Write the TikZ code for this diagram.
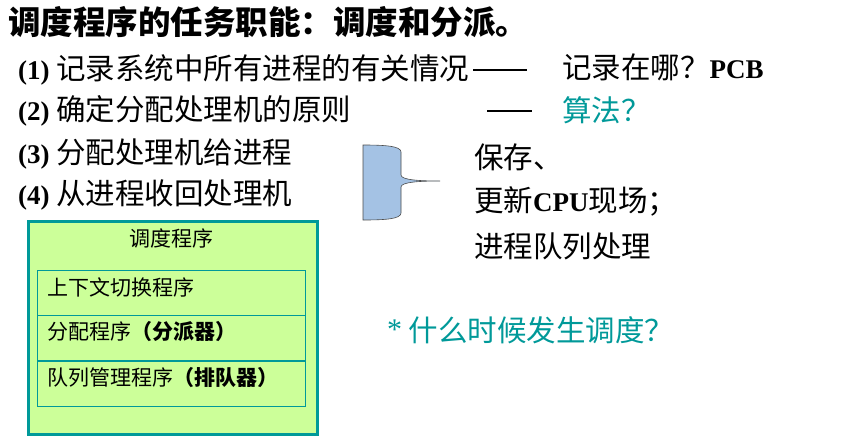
\documentclass[tikz,border=0pt]{standalone}
\usepackage{fontspec}
\setmainfont{Liberation Serif}
\newfontfamily\cjk{Noto Sans CJK SC}
\definecolor{teal1}{RGB}{0,153,153}
\definecolor{boxgreen}{RGB}{204,255,153}
\definecolor{bracefill}{RGB}{164,194,228}
\newcommand\cj[1]{{\fontsize{29.5}{31}\selectfont\cjk #1}}
\begin{document}
\begin{tikzpicture}[x=1pt,y=-1pt,
  big/.style={anchor=west,inner sep=0pt,font=\fontsize{27}{29}\selectfont},
  mid/.style={anchor=west,inner sep=0pt,font=\fontsize{21}{23}\selectfont\cjk}]
\useasboundingbox (0,0) rectangle (841,445);
\node[anchor=west,inner sep=0pt,font=\fontsize{32.5}{34}\selectfont\cjk\bfseries] (title) at (8,22) {调度程序的任务职能：调度和分派。};
\node[big] (i1) at (18,70) {\textbf{(1)} \cj{记录系统中所有进程的有关情况}};
\node[big] (i2) at (18,111) {\textbf{(2)} \cj{确定分配处理机的原则}};
\node[big] (i3) at (18,154) {\textbf{(3)} \cj{分配处理机给进程}};
\node[big] (i4) at (18,195) {\textbf{(4)} \cj{从进程收回处理机}};
\coordinate (d1a) at (473,70); \coordinate (d1b) at (527,70);
\coordinate (d2a) at (487,111); \coordinate (d2b) at (532,111);
\draw[line width=1.3pt] (d1a) -- (d1b);
\draw[line width=1.3pt] (d2a) -- (d2b);
\node[big] (r1) at (562,67) {\cj{记录在哪？}\textbf{PCB}};
\node[big,text=teal1] (r2) at (562,110) {\cj{算法？}};
\node[big] (s1) at (474,157) {\cj{保存、}};
\node[big] (s2) at (474,201) {\cj{更新}\textbf{CPU}\cj{现场；}};
\node[big] (s3) at (474,246) {\cj{进程队列处理}};
\node[big,text=teal1] (q) at (387,330) {\raisebox{2pt}{\fontsize{30}{30}\selectfont *} \cj{什么时候发生调度？}};
\draw[fill=bracefill,draw=black!70,line width=0.6pt]
  (363,145) .. controls (385,145) and (401,146) .. (401,152) -- (401,175)
  .. controls (401,180) and (420,181) .. (440,181)
  .. controls (420,181) and (401,182) .. (401,187) -- (401,213)
  .. controls (401,219) and (385,220) .. (363,220) -- cycle;
\node[draw=teal1,line width=3pt,fill=boxgreen,minimum width=289pt,minimum height=213pt,anchor=north west] (outer) at (27,220) {};
\node[font=\fontsize{21}{23}\selectfont\cjk,inner sep=0pt] (ot) at (171,238) {调度程序};
\node[draw=teal1,line width=0.8pt,minimum width=268pt,minimum height=45pt,anchor=north west] (b1) at (37,270) {};
\node[draw=teal1,line width=0.8pt,minimum width=268pt,minimum height=45pt,anchor=north west] (b2) at (37,315) {};
\node[draw=teal1,line width=0.8pt,minimum width=268pt,minimum height=45pt,anchor=north west] (b3) at (37,361) {};
\node[mid] (t1) at (47,287) {上下文切换程序};
\node[mid] (t2) at (47,332) {分配程序{\bfseries（分派器）}};
\node[mid] (t3) at (47,378) {队列管理程序{\bfseries（排队器）}};
\end{tikzpicture}
\end{document}
